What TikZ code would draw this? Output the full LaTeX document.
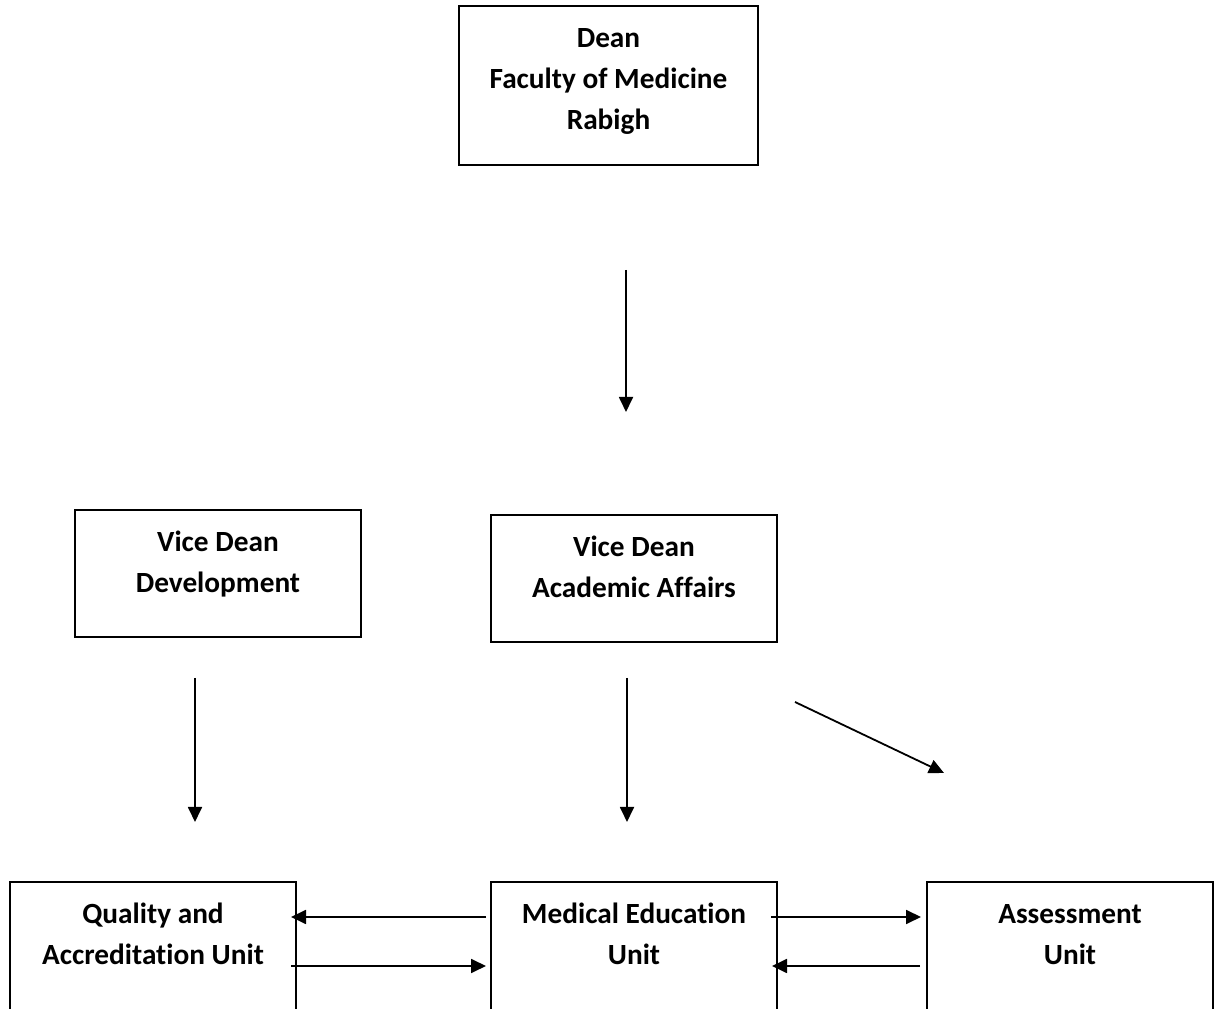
\documentclass[tikz,border=0pt]{standalone}
\usepackage{fontspec}
\setmainfont{Carlito}[Ligatures=NoCommon]
\usetikzlibrary{arrows.meta}
\newcommand{\topstrut}{\rule{0pt}{22pt}}
\begin{document}
\begin{tikzpicture}[x=1pt,y=1pt,
  box/.style={draw=black, line width=1.8pt, minimum width=#1, inner sep=0pt},
  txt/.style={anchor=north, inner sep=0pt, align=center, font=\fontsize{29.3}{41}\selectfont\bfseries, yshift=-20pt},
  arr/.style={line width=1.8pt, -{Triangle[length=15pt,width=14pt]}}]
\useasboundingbox (0,0) rectangle (1216,1009);
\clip (0,0) rectangle (1216,1009);
% boxes
\node[box=299pt, minimum height=159pt] (dean) at (608.5,923.5) {};
\node[box=286pt, minimum height=127pt] (vdd) at (218,435.5) {};
\node[box=286pt, minimum height=127pt] (vda) at (634,430.5) {};
\node[box=286pt, minimum height=167pt] (qau) at (153,43.5) {};
\node[box=286pt, minimum height=167pt] (meu) at (634,43.5) {};
\node[box=286pt, minimum height=167pt] (asu) at (1070,43.5) {};
% texts
\node[txt] (tdean) at (dean.north) {\topstrut Dean\\Faculty of Medicine\\Rabigh};
\node[txt] (tvdd) at (vdd.north) {\topstrut Vice Dean\\Development};
\node[txt] (tvda) at (vda.north) {\topstrut Vice Dean\\Academic Affairs};
\node[txt] (tqau) at (qau.north) {\topstrut Quality and\\Accreditation Unit};
\node[txt] (tmeu) at (meu.north) {\topstrut Medical Education\\Unit};
\node[txt] (tasu) at (asu.north) {\topstrut Assessment\\Unit};
% arrow end points
\coordinate (a1s) at (626,739); \coordinate (a1e) at (626,597);
\coordinate (a2s) at (195,331); \coordinate (a2e) at (195,187);
\coordinate (a3s) at (627,331); \coordinate (a3e) at (627,187);
\coordinate (a4s) at (795,307); \coordinate (a4e) at (944,236);
\coordinate (h1s) at (486,92);  \coordinate (h1e) at (291,92);
\coordinate (h2s) at (291,43);  \coordinate (h2e) at (486,43);
\coordinate (h3s) at (771,92);  \coordinate (h3e) at (921,92);
\coordinate (h4s) at (920,43);  \coordinate (h4e) at (772,43);
% arrows
\draw[arr] (a1s) -- (a1e);
\draw[arr] (a2s) -- (a2e);
\draw[arr] (a3s) -- (a3e);
\draw[arr] (a4s) -- (a4e);
\draw[arr] (h1s) -- (h1e);
\draw[arr] (h2s) -- (h2e);
\draw[arr] (h3s) -- (h3e);
\draw[arr] (h4s) -- (h4e);
\end{tikzpicture}
\end{document}
